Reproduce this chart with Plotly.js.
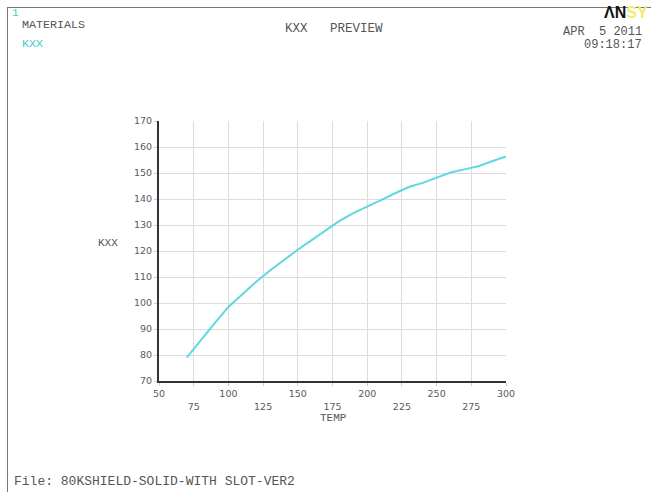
<!DOCTYPE html>
<html>
<head>
<meta charset="utf-8">
<script src="https://cdn.plot.ly/plotly-3.0.1.min.js"></script>
<style>html,body{margin:0;padding:0;background:#fff;}#chart{width:651px;height:492px;}</style>
</head>
<body>
<div id="chart"></div>
<script>
// Data
const temp = [70, 80, 90, 100, 110, 120, 130, 140, 150, 160, 170, 180, 190, 200, 210, 220, 230, 240, 250, 260, 270, 280, 290, 300];
const kxx  = [79, 85.8, 92.2, 98.5, 103.5, 108.2, 112.5, 116.6, 120.5, 124.2, 127.8, 131.6, 134.6, 137, 139.6, 142.2, 144.6, 146.2, 148.2, 150.2, 151.4, 152.6, 154.5, 156.4];
const xTickVals = [50, 75, 100, 125, 150, 175, 200, 225, 250, 275, 300];
const xTickText = ['50', '<br>75', '100', '<br>125', '150', '<br>175', '200', '<br>225', '250', '<br>275', '300'];
const yTickVals = [70, 80, 90, 100, 110, 120, 130, 140, 150, 160, 170];

const W = 651, H = 492;
const L = 159, R = 506, T = 121, B = 381;
const px = v => (v - L) / (R - L);
const py = v => (B - v) / (B - T);
const mono = 'Liberation Mono, Courier New, monospace';
const grey = '#555';
const cyan = '#3fc9cf';

function ann(text, x, y, xa, size, color, family) {
  return {text: text, x: px(x), y: py(y), xref: 'paper', yref: 'paper',
    xanchor: xa, yanchor: 'middle', showarrow: false,
    font: {family: family || mono, size: size, color: color}};
}

const annotations = [
  ann('1', 10, 13, 'left', 11, cyan),
  ann('MATERIALS', 20, 25, 'left', 11.7, grey),
  ann('KXX', 20, 44, 'left', 11.7, cyan),
  ann('KXX   PREVIEW', 334, 29, 'center', 12.5, grey),
  ann('APR  5 2011', 644, 32, 'right', 12, grey),
  ann('09:18:17', 644, 45, 'right', 12, grey),
  ann('File: 80KSHIELD-SOLID-WITH SLOT-VER2', 12, 481, 'left', 13, grey),
  ann('KXX', 108, 243, 'center', 11, grey),
  ann('TEMP', 333, 418, 'center', 11, grey),
  ann('<b>ΛN<span style="fill:#f2ec6a">SY</span></b>', 650, 13, 'right', 16, '#111', 'Liberation Sans, Arial, sans-serif')
];

const shapes = [
  {type: 'line', xref: 'paper', yref: 'paper', x0: px(7), x1: px(651), y0: py(7.5), y1: py(7.5), line: {color: '#777', width: 1}},
  {type: 'line', xref: 'paper', yref: 'paper', x0: px(7.5), x1: px(7.5), y0: py(7), y1: py(492), line: {color: '#777', width: 1}}
];

const trace = {
  x: temp, y: kxx, type: 'scatter', mode: 'lines',
  line: {color: '#5fd8de', width: 2}, hoverinfo: 'skip'
};

const axisFont = {family: 'DejaVu Sans, sans-serif', size: 9.5, color: '#5a5a5a'};
const layout = {
  width: W, height: H,
  margin: {l: L, r: W - R, t: T, b: H - B, pad: 0},
  paper_bgcolor: '#fff', plot_bgcolor: '#fff',
  showlegend: false,
  xaxis: {range: [50, 300], tickmode: 'array', tickvals: xTickVals, ticktext: xTickText,
    showgrid: true, gridcolor: '#dcdcdc', gridwidth: 1, zeroline: false,
    showline: true, linecolor: '#333', linewidth: 2, ticks: 'outside', ticklen: 3, tickcolor: '#ccc',
    tickfont: axisFont, fixedrange: true},
  yaxis: {range: [70, 170], tickmode: 'array', tickvals: yTickVals,
    showgrid: true, gridcolor: '#dcdcdc', gridwidth: 1, zeroline: false,
    showline: true, linecolor: '#333', linewidth: 2, ticks: 'outside', ticklen: 3, tickcolor: '#ccc',
    tickfont: axisFont, fixedrange: true},
  annotations: annotations,
  shapes: shapes
};

Plotly.newPlot('chart', [trace], layout, {displayModeBar: false, staticPlot: true});
</script>
</body>
</html>
